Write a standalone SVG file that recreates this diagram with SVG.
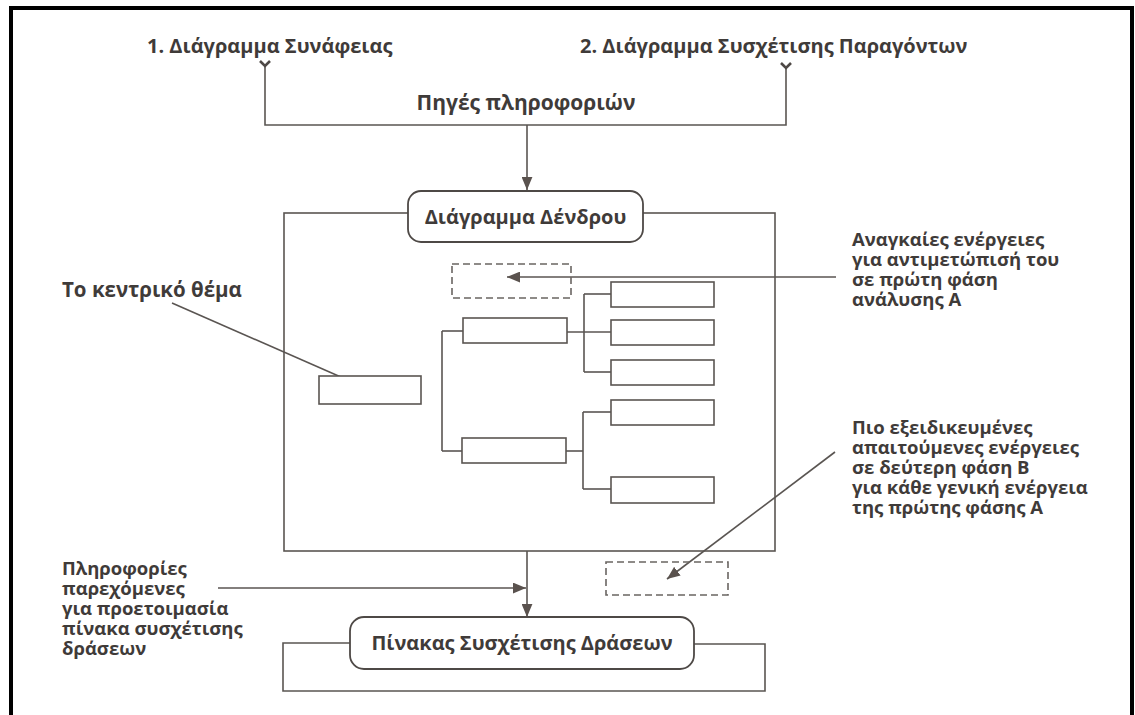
<svg xmlns="http://www.w3.org/2000/svg" width="1135" height="715" viewBox="0 0 1135 715">
  <defs>
    <style>
      .txt { font-family: "Open Sans", "Noto Sans", "DejaVu Sans", sans-serif; font-weight: 700; fill: #3f3b39; }
      .big { font-size: 20px; }
      .lbl { font-size: 20px; }
      .note { font-size: 18.5px; }
      .ln { fill: none; stroke: #5a5552; stroke-width: 1.6; }
      .box { fill: #ffffff; stroke: #5a5552; stroke-width: 1.6; }
      .dash { fill: none; stroke: #6a6562; stroke-width: 1.6; stroke-dasharray: 7 4; }
      .pill { fill: #ffffff; stroke: #4e4946; stroke-width: 1.8; }
      .tail { fill: none; stroke: #4e4946; stroke-width: 2.6; stroke-linejoin: miter; }
    </style>
    <marker id="ah" viewBox="0 0 12 10" refX="12" refY="5" markerWidth="13" markerHeight="11" markerUnits="userSpaceOnUse" orient="auto">
      <path d="M0,0 L12,5 L0,10 z" fill="#5a524e"/>
    </marker>
  </defs>

  <rect width="1135" height="715" fill="#ffffff"/>

  <!-- black frame, open at the bottom -->
  <path d="M11,715 L11,8 L1132,8 L1132,715" fill="none" stroke="#000000" stroke-width="4"/>

  <!-- connectors -->
  <g id="connectors">
    <!-- sources to tree diagram -->
    <path class="ln" d="M265,66 L265,125 L786,125 L786,68"/>
    <path class="tail" d="M260,61 L265,66 L270,61"/>
    <path class="tail" d="M781,63 L786,68 L791,63"/>
    <path class="ln" d="M527,125 L527,190" marker-end="url(#ah)"/>

    <!-- tree branches -->
    <path class="ln" d="M442,331 L442,451"/>
    <path class="ln" d="M442,331 L463,331"/>
    <path class="ln" d="M442,451 L462,451"/>
    <path class="ln" d="M567,332 L611,332"/>
    <path class="ln" d="M584,294 L584,372"/>
    <path class="ln" d="M584,294 L611,294"/>
    <path class="ln" d="M584,372 L611,372"/>
    <path class="ln" d="M566,451 L583,451"/>
    <path class="ln" d="M583,412 L583,489"/>
    <path class="ln" d="M583,412 L611,412"/>
    <path class="ln" d="M583,489 L611,489"/>

    <!-- annotation pointers -->
    <path class="ln" d="M836,277 L507,277" marker-end="url(#ah)"/>
    <path class="ln" d="M172,303 L375,392" marker-end="url(#ah)"/>
    <path class="ln" d="M835,452 L667,579" marker-end="url(#ah)"/>
    <path class="ln" d="M218,588 L526,588" marker-end="url(#ah)"/>

    <!-- tree diagram to action table -->
    <path class="ln" d="M527,551 L527,617" marker-end="url(#ah)"/>

    <!-- bracket around the action table -->
    <path class="ln" d="M350,643 L283,643 L283,691 L765,691 L765,644 L694,644"/>
  </g>

  <g id="label-affinity">
    <text class="txt big" x="147" y="53">1. Διάγραμμα Συνάφειας</text>
  </g>
  <g id="label-interrelation">
    <text class="txt big" x="580" y="53">2. Διάγραμμα Συσχέτισης Παραγόντων</text>
  </g>
  <g id="label-sources">
    <text class="txt" x="526" y="110" text-anchor="middle" font-size="21">Πηγές πληροφοριών</text>
  </g>

  <!-- tree diagram frame with its title -->
  <g id="tree-frame">
    <rect class="ln" x="284" y="213" width="491" height="338"/>
  </g>
  <g id="tree-title">
    <rect class="pill" x="408" y="191" width="235" height="51" rx="13" ry="13"/>
    <text class="txt lbl" x="525.5" y="224" text-anchor="middle">Διάγραμμα Δένδρου</text>
  </g>

  <g id="central-theme">
    <rect class="box" x="319" y="376" width="102" height="28"/>
  </g>
  <g id="first-phase-a">
    <rect class="box" x="463" y="318" width="104" height="25"/>
  </g>
  <g id="first-phase-b">
    <rect class="box" x="462" y="438" width="104" height="25"/>
  </g>
  <g id="second-phase-1">
    <rect class="box" x="611" y="282" width="103" height="25"/>
  </g>
  <g id="second-phase-2">
    <rect class="box" x="611" y="320" width="103" height="25"/>
  </g>
  <g id="second-phase-3">
    <rect class="box" x="611" y="360" width="103" height="25"/>
  </g>
  <g id="second-phase-4">
    <rect class="box" x="611" y="400" width="103" height="25"/>
  </g>
  <g id="second-phase-5">
    <rect class="box" x="611" y="477" width="103" height="26"/>
  </g>

  <g id="phase-a-marker">
    <rect class="dash" x="452" y="264" width="119" height="34"/>
  </g>
  <g id="phase-b-marker">
    <rect class="dash" x="606" y="562" width="122" height="33"/>
  </g>

  <g id="note-central">
    <text class="txt" x="62" y="297" font-size="20.5">Το κεντρικό θέμα</text>
  </g>
  <g id="note-phase-a">
    <text class="txt note" x="852">
      <tspan x="852" y="246">Αναγκαίες ενέργειες</tspan>
      <tspan x="852" y="266">για αντιμετώπισή του</tspan>
      <tspan x="852" y="286">σε πρώτη φάση</tspan>
      <tspan x="852" y="306">ανάλυσης Α</tspan>
    </text>
  </g>
  <g id="note-phase-b">
    <text class="txt note" x="852">
      <tspan x="852" y="434">Πιο εξειδικευμένες</tspan>
      <tspan x="852" y="454">απαιτούμενες ενέργειες</tspan>
      <tspan x="852" y="474">σε δεύτερη φάση Β</tspan>
      <tspan x="852" y="494">για κάθε γενική ενέργεια</tspan>
      <tspan x="852" y="514">της πρώτης φάσης Α</tspan>
    </text>
  </g>
  <g id="note-info">
    <text class="txt note" x="62">
      <tspan x="62" y="575">Πληροφορίες</tspan>
      <tspan x="62" y="595">παρεχόμενες</tspan>
      <tspan x="62" y="615">για προετοιμασία</tspan>
      <tspan x="62" y="635">πίνακα συσχέτισης</tspan>
      <tspan x="62" y="655">δράσεων</tspan>
    </text>
  </g>

  <g id="action-table">
    <rect class="pill" x="350" y="617" width="344" height="52" rx="14" ry="14"/>
    <text class="txt lbl" x="522" y="650" text-anchor="middle">Πίνακας Συσχέτισης Δράσεων</text>
  </g>
</svg>
